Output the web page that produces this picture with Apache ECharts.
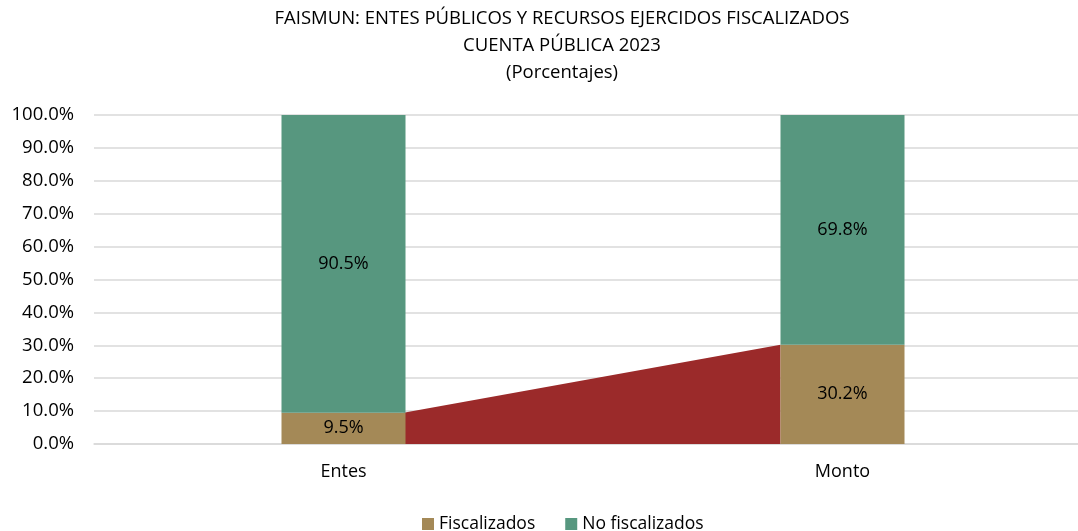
<!DOCTYPE html>
<html>
<head>
<meta charset="utf-8">
<script src="https://cdn.jsdelivr.net/npm/echarts@6/dist/echarts.min.js"></script>
<style>
  html, body { margin: 0; padding: 0; background: #fff; overflow: hidden; }
  /* el area de trazado continua fuera del borde derecho, como en el original */
  #main { width: 1092px; height: 531px; }
</style>
</head>
<body>
<div id="main"></div>
<script>
// datos de la grafica
var categorias = ['Entes', 'Monto'];
var fiscalizados = [9.5, 30.2];
var noFiscalizados = [90.5, 69.8];
var tituloLineas = [
  'FAISMUN: ENTES PÚBLICOS Y RECURSOS EJERCIDOS FISCALIZADOS',
  'CUENTA PÚBLICA 2023',
  '(Porcentajes)'
];

var fuente = '"Open Sans", sans-serif';
var anchoBarra = 124;

var myChart = echarts.init(document.getElementById('main'));

myChart.setOption({
  animation: false,
  title: {
    text: tituloLineas.join('\n'),
    left: 557,
    textAlign: 'center',
    top: 0,
    textStyle: {
      fontFamily: fuente,
      fontSize: 18.5,
      fontWeight: 'normal',
      color: '#000',
      lineHeight: 27
    }
  },
  legend: {
    top: 510,
    left: 417,
    itemWidth: 12,
    itemHeight: 12,
    itemGap: 30,
    icon: 'rect',
    data: ['Fiscalizados', 'No fiscalizados'],
    textStyle: { fontFamily: fuente, fontSize: 17.5, color: '#000' }
  },
  grid: {
    left: 94,
    right: 0,
    top: 115,
    bottom: 87,
    containLabel: false
  },
  xAxis: {
    type: 'category',
    data: categorias,
    axisTick: { show: false },
    axisLine: { lineStyle: { color: '#D9D9D9', width: 1.5 } },
    axisLabel: { fontFamily: fuente, fontSize: 18, color: '#000', margin: 19 }
  },
  yAxis: {
    type: 'value',
    min: 0,
    max: 100,
    interval: 10,
    axisLine: { show: false },
    axisTick: { show: false },
    splitLine: { lineStyle: { color: '#D9D9D9', width: 1.5 } },
    axisLabel: {
      fontFamily: fuente,
      fontSize: 18.5,
      color: '#000',
      margin: 20,
      formatter: function (v) { return v.toFixed(1) + '%'; }
    }
  },
  series: [
    {
      // area roja que une los fiscalizados
      type: 'custom',
      z: 1,
      silent: true,
      data: [[0, fiscalizados[0], fiscalizados[1]]],
      renderItem: function (params, api) {
        var p0 = api.coord([0, api.value(1)]);
        var p1 = api.coord([1, api.value(2)]);
        var base0 = api.coord([0, 0]);
        var half = anchoBarra / 2;
        return {
          type: 'polygon',
          shape: {
            points: [
              [p0[0] + half - 2, base0[1]],
              [p0[0] + half - 2, p0[1]],
              [p1[0] - half, p1[1]],
              [p1[0] - half, base0[1]]
            ]
          },
          style: { fill: '#9B2A2A' }
        };
      }
    },
    {
      name: 'Fiscalizados',
      type: 'bar',
      stack: 'total',
      z: 2,
      barWidth: anchoBarra,
      data: fiscalizados,
      itemStyle: { color: '#A48957' },
      label: {
        show: true,
        position: 'inside',
        fontFamily: fuente,
        fontSize: 18,
        color: '#000',
        formatter: function (p) { return p.value.toFixed(1) + '%'; }
      }
    },
    {
      name: 'No fiscalizados',
      type: 'bar',
      stack: 'total',
      z: 2,
      barWidth: anchoBarra,
      data: noFiscalizados,
      itemStyle: { color: '#57977F' },
      label: {
        show: true,
        position: 'inside',
        fontFamily: fuente,
        fontSize: 18,
        color: '#000',
        formatter: function (p) { return p.value.toFixed(1) + '%'; }
      }
    }
  ]
});
</script>
</body>
</html>
